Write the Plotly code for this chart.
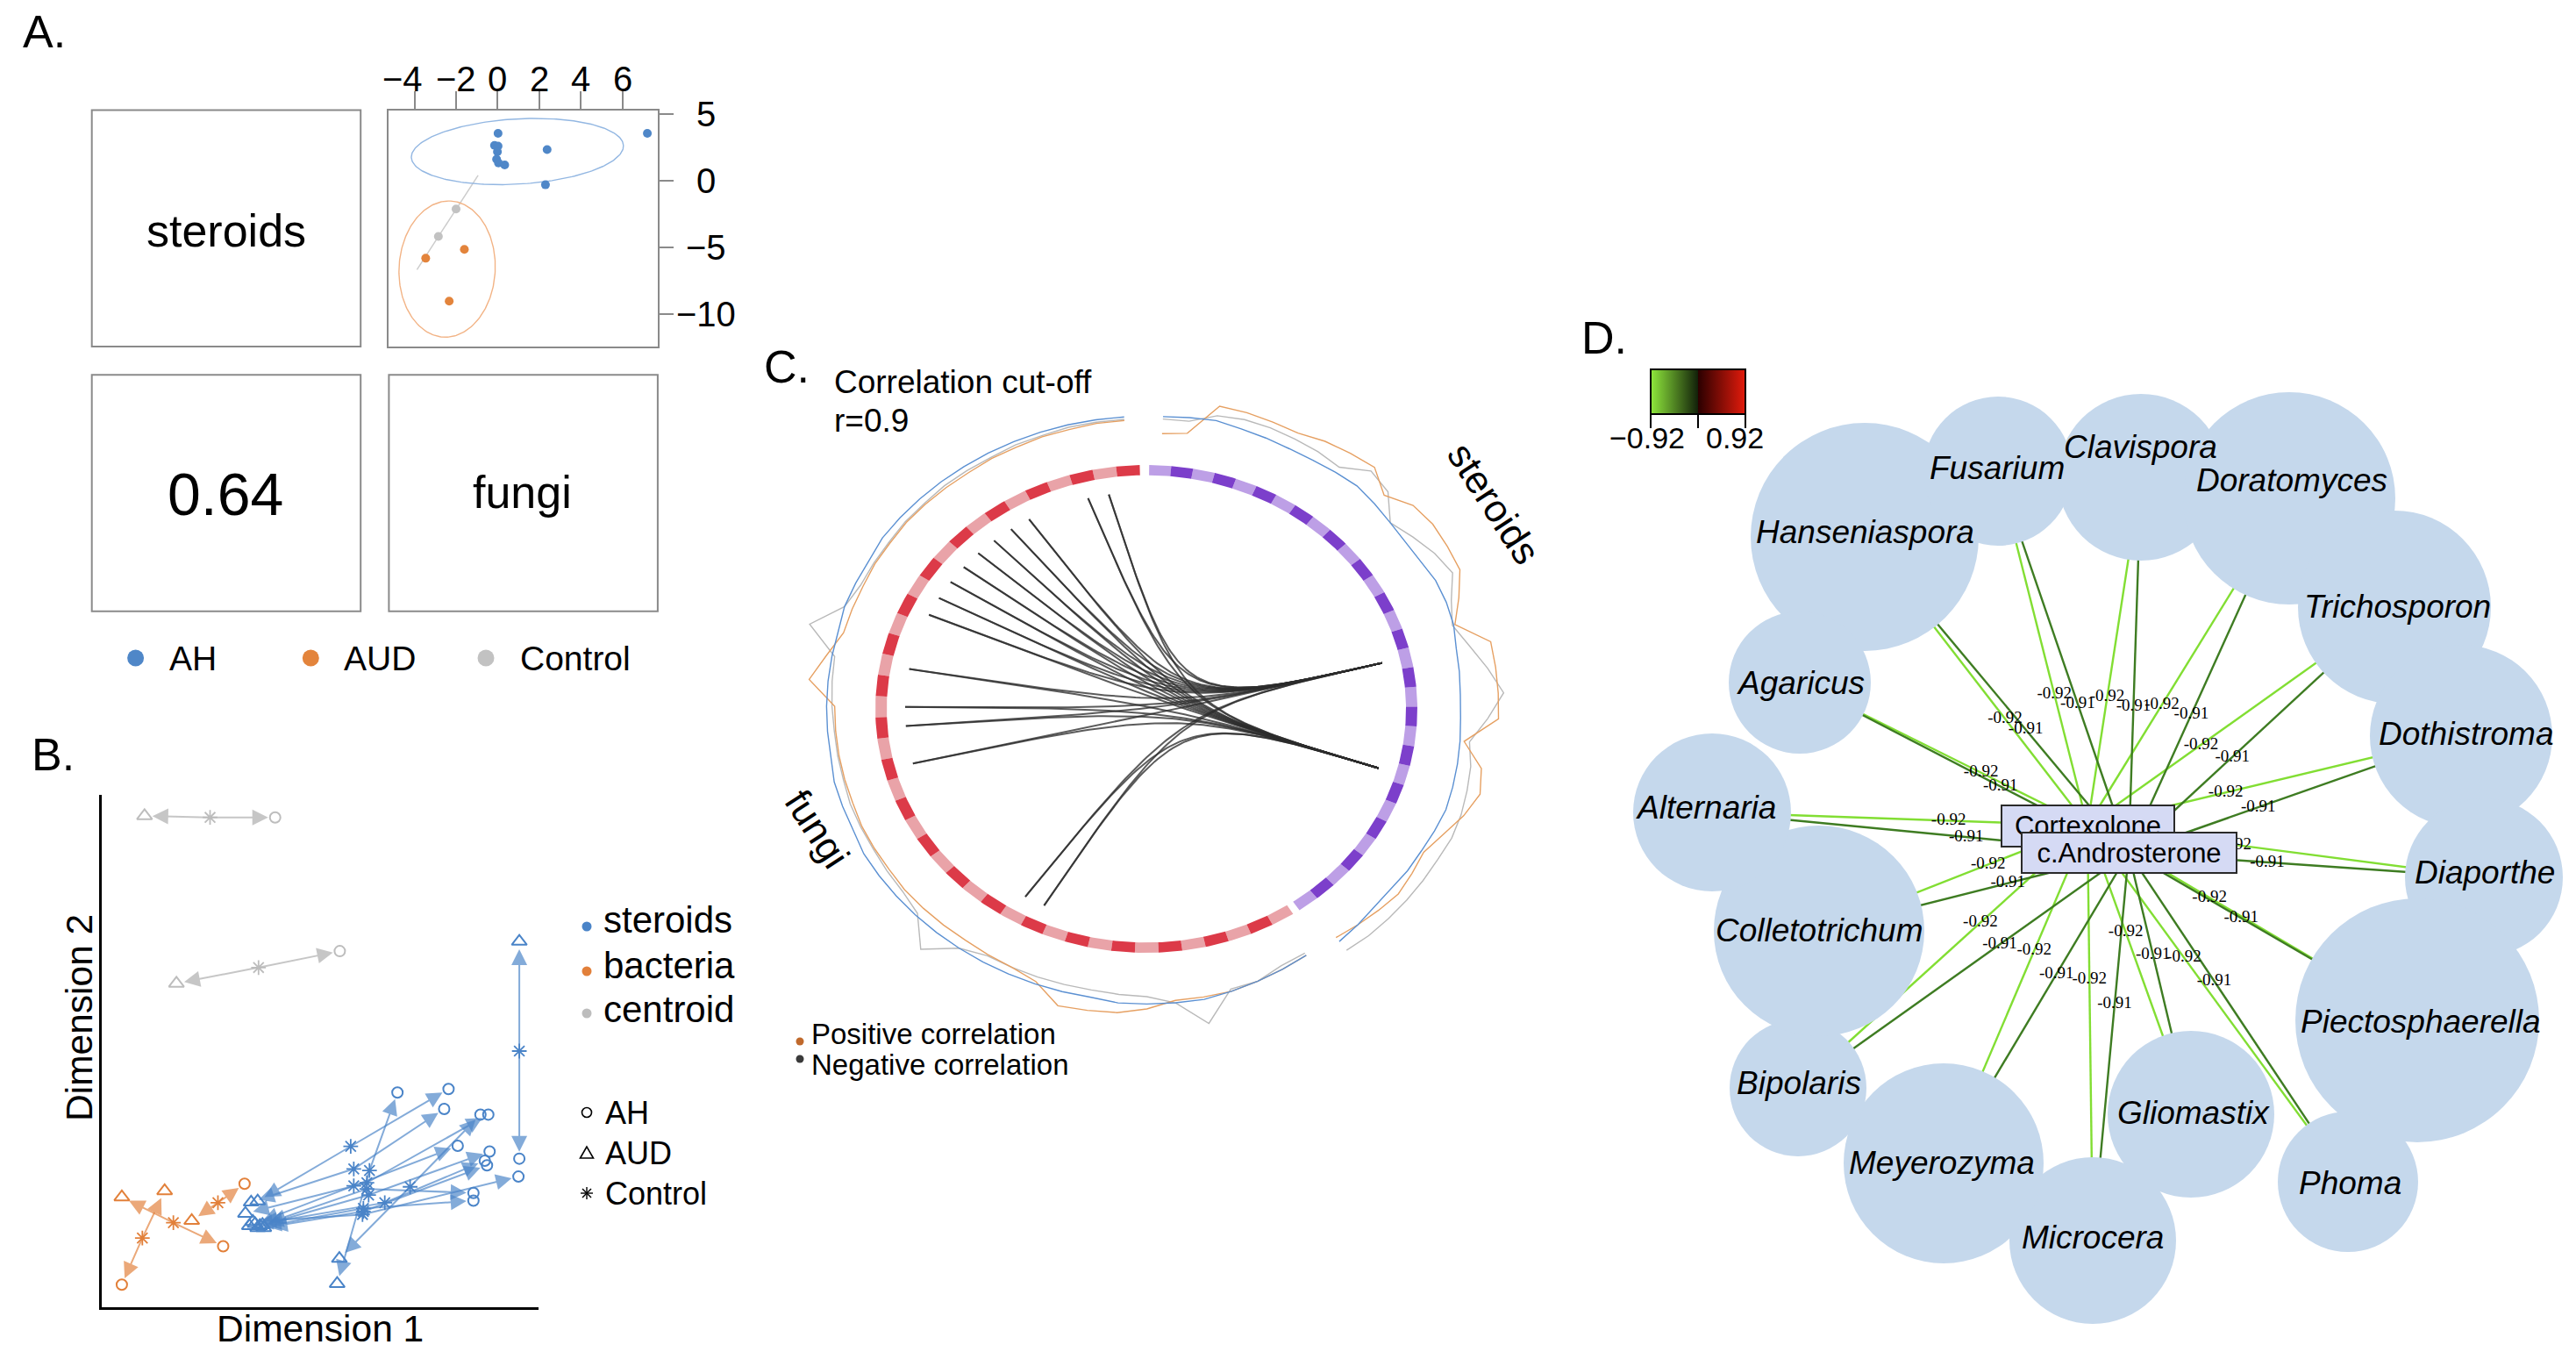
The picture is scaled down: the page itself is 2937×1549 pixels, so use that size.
import numpy as np
import plotly.graph_objects as go

W, H = 2937, 1549
SANS = "Liberation Sans, Arial, Helvetica, sans-serif"
SERIF = "Liberation Serif, Times New Roman, Times, serif"


def fx(p):
    return p / W


def fy(p):
    return 1 - p / H


# ======================= DATA =======================
# ---- Panel A : ordination of steroids, three groups ----
A_AH_X = [0.02, 7.20, 2.38, -0.15, 0.02, -0.01, -0.05, 0.04, 0.34, 2.30]
A_AH_Y = [3.52, 3.52, 2.31, 2.62, 2.57, 2.14, 1.58, 1.30, 1.15, -0.33]
A_AUD_X = [-1.60, -3.46, -2.33]
A_AUD_Y = [-5.18, -5.84, -9.06]
A_CTRL_X = [-2.00, -2.85]
A_CTRL_Y = [-2.15, -4.20]
# ellipse: centre x, centre y, conjugate semi-axis a (x, y), conjugate semi-axis b (x, y)
A_ELLIPSE_AH = [0.95, 2.16, 5.10, 0.46, -0.09, 2.44]
A_ELLIPSE_AUD = [-2.43, -6.65, 0.17, 5.10, 2.31, -0.19]
A_CTRL_LINE_X = [-3.88, -0.94]
A_CTRL_LINE_Y = [-6.70, 0.38]
A_MANTEL_R = "0.64"
A_DIAG = ["steroids", "fungi"]
A_XTICKS = [-4, -2, 0, 2, 4, 6]
A_YTICKS = [5, 0, -5, -10]
A_GROUPS = ["AH", "AUD", "Control"]

# ---- Panel B : procrustes-like arrows (Control -> AUD, Control -> AH) ----
B_STE_CTRL_X = [95.6, 57.0, 70.6, 61.3, 57.7, 60.7, 57.7, 61.1, 64.8, 59.9, 59.7, 60.7, 59.9]
B_STE_CTRL_Y = [50.0, 31.4, 23.5, 26.7, 27.0, 24.3, 23.7, 21.9, 20.4, 18.7, 18.1, 23.1, 19.3]
B_STE_AUD_X = [95.6, 35.7, 54.4, 53.9, 34.2, 32.9, 35.1, 36.2, 33.8, 37.1, 34.6, 36.8, 35.7]
B_STE_AUD_Y = [71.4, 20.7, 9.5, 4.6, 20.5, 18.3, 16.3, 15.9, 15.9, 15.5, 16.7, 16.1, 15.5]
B_STE_AH_X = [95.6, 79.4, 86.7, 67.7, 78.4, 88.5, 81.5, 88.8, 87.7, 88.2, 95.4, 85.1, 85.1]
B_STE_AH_Y = [29.0, 42.6, 37.6, 41.9, 38.7, 37.6, 31.5, 30.4, 28.6, 27.7, 25.5, 22.3, 20.8]
B_BAC_CTRL_X = [16.4, 9.3, 26.6]
B_BAC_CTRL_Y = [16.5, 13.5, 20.4]
B_BAC_AUD_X = [4.6, 14.4, 20.6]
B_BAC_AUD_Y = [21.5, 22.7, 16.9]
B_BAC_AH_X = [27.8, 4.6, 32.7]
B_BAC_AH_Y = [11.9, 4.4, 24.1]
B_CEN_CTRL_X = [24.8, 35.9]
B_CEN_CTRL_Y = [95.6, 66.3]
B_CEN_AUD_X = [9.8, 17.1]
B_CEN_AUD_Y = [95.9, 63.2]
B_CEN_AH_X = [39.7, 54.5]
B_CEN_AH_Y = [95.6, 69.5]
B_SOURCES = ["steroids", "bacteria", "centroid"]
B_GROUPS = ["AH", "AUD", "Control"]

# ---- Panel C : circos plot ----
C_N_STEROIDS = 31
C_N_FUNGI = 42
C_LINK_FUNGI = [11, 12, 21, 23, 24, 26, 29, 30, 31, 32, 33, 34, 35, 36, 39, 40]
C_LINK_STEROIDS = [16, 22]
C_TRACK_STE_BLUE = [1.20, 1.205, 1.21, 1.20, 1.195, 1.19, 1.19, 1.195, 1.20, 1.19, 1.18,
                    1.175, 1.18, 1.19, 1.19, 1.185, 1.17, 1.165, 1.16, 1.16, 1.165, 1.17,
                    1.175, 1.18, 1.175, 1.17, 1.17, 1.165, 1.17, 1.18, 1.19]
C_TRACK_STE_GREY = [1.19, 1.19, 1.23, 1.24, 1.24, 1.235, 1.23, 1.22, 1.28, 1.26, 1.18,
                    1.21, 1.24, 1.26, 1.21, 1.18, 1.22, 1.27, 1.32, 1.26, 1.20, 1.22,
                    1.23, 1.24, 1.245, 1.24, 1.24, 1.24, 1.24, 1.24, 1.235]
C_TRACK_STE_ORANGE = [1.13, 1.14, 1.27, 1.27, 1.265, 1.262, 1.28, 1.29, 1.30, 1.24, 1.29,
                      1.30, 1.295, 1.29, 1.24, 1.19, 1.30, 1.30, 1.30, 1.30, 1.18, 1.26,
                      1.28, 1.25, 1.21, 1.18, 1.19, 1.20, 1.19, 1.18, 1.17]
C_TRACK_FUN_BLUE = [1.17, 1.18, 1.19, 1.20, 1.21, 1.21, 1.21, 1.21, 1.20, 1.20, 1.20,
                    1.20, 1.20, 1.20, 1.20, 1.20, 1.20, 1.20, 1.20, 1.19, 1.19, 1.19,
                    1.18, 1.18, 1.18, 1.18, 1.18, 1.18, 1.19, 1.19, 1.19, 1.20, 1.20,
                    1.20, 1.20, 1.20, 1.20, 1.20, 1.20, 1.20, 1.20, 1.20]
C_TRACK_FUN_GREY = [1.16, 1.165, 1.19, 1.19, 1.31, 1.21, 1.18, 1.175, 1.17, 1.17, 1.17,
                    1.17, 1.17, 1.20, 1.29, 1.19, 1.17, 1.165, 1.16, 1.16, 1.16, 1.155,
                    1.155, 1.155, 1.16, 1.165, 1.17, 1.29, 1.19, 1.17, 1.17, 1.17, 1.175,
                    1.175, 1.18, 1.18, 1.18, 1.185, 1.185, 1.19, 1.19, 1.19]
C_TRACK_FUN_ORANGE = [1.17, 1.18, 1.19, 1.20, 1.20, 1.20, 1.23, 1.25, 1.255, 1.26, 1.19,
                      1.17, 1.165, 1.16, 1.16, 1.16, 1.16, 1.155, 1.155, 1.155, 1.15, 1.15,
                      1.15, 1.15, 1.15, 1.25, 1.20, 1.16, 1.16, 1.16, 1.165, 1.165, 1.17,
                      1.17, 1.17, 1.17, 1.175, 1.175, 1.18, 1.18, 1.185, 1.185]
C_SECTORS = ["steroids", "fungi"]
C_TITLE = ["Correlation cut-off", "r=0.9"]
C_LEGEND = ["Positive correlation", "Negative correlation"]

# ---- Panel D : correlation network ----
D_FUNGI = ["Hanseniaspora", "Fusarium", "Clavispora", "Doratomyces", "Trichosporon",
           "Dothistroma", "Diaporthe", "Piectosphaerella", "Phoma", "Gliomastix",
           "Microcera", "Meyerozyma", "Bipolaris", "Colletotrichum", "Alternaria", "Agaricus"]
D_STEROIDS = ["Cortexolone", "c.Androsterone"]
D_R_CORTEXOLONE = [-0.92, -0.92, -0.92, -0.92, -0.92, -0.92, -0.92, -0.92,
                   -0.92, -0.92, -0.92, -0.92, -0.92, -0.92, -0.92, -0.92]
D_R_ANDROSTERONE = [-0.91, -0.91, -0.91, -0.91, -0.91, -0.91, -0.91, -0.91,
                    -0.91, -0.91, -0.91, -0.91, -0.91, -0.91, -0.91, -0.91]
D_COLOR_RANGE = [-0.92, 0.92]

# ======================= LAYOUT CONSTANTS (pixels) =======================
D_NODE_POS = {  # network layout: centre x, centre y, radius (px)
    "Hanseniaspora": (2126, 612, 130), "Fusarium": (2278, 537, 85),
    "Clavispora": (2441, 544, 95), "Doratomyces": (2610, 568, 121),
    "Trichosporon": (2730, 692, 110), "Dothistroma": (2806, 839, 104),
    "Diaporthe": (2832, 1000, 90), "Piectosphaerella": (2756, 1163, 139),
    "Phoma": (2677, 1347, 80), "Gliomastix": (2498, 1270, 95),
    "Microcera": (2386, 1414, 95), "Meyerozyma": (2216, 1326, 114),
    "Bipolaris": (2050, 1240, 78), "Colletotrichum": (2074, 1061, 120),
    "Alternaria": (1952, 926, 90), "Agaricus": (2052, 778, 81),
}
D_LABEL_POS = {
    "Hanseniaspora": (2126, 606), "Fusarium": (2277, 533), "Clavispora": (2440, 509),
    "Doratomyces": (2613, 547), "Trichosporon": (2733, 691), "Dothistroma": (2811, 836),
    "Diaporthe": (2833, 994), "Piectosphaerella": (2760, 1164), "Phoma": (2679, 1348),
    "Gliomastix": (2501, 1268), "Microcera": (2386, 1410), "Meyerozyma": (2214, 1325),
    "Bipolaris": (2051, 1234), "Colletotrichum": (2074, 1060), "Alternaria": (1945, 920),
    "Agaricus": (2053, 778),
}
D_HUB_POS = {"Cortexolone": (2380, 941, 199, 49), "c.Androsterone": (2427, 972, 247, 48)}
D_LABEL_T = {"Cortexolone": 0.37, "c.Androsterone": 0.39}

C_CX, C_CY, C_RX, C_RY = 1307, 808, 309, 278
C_S_START, C_S_END = 0.6, 145.6
C_F_START, C_F_END = 147.2, 358.6

A_L1, A_R1, A_L2, A_R2 = 104.7, 411.2, 443.4, 749.9
A_TOP, A_BOT, A_TOP2, A_BOT2 = 125.6, 395.0, 427.3, 696.7
A_XLAB_Y = 90      # centre line of top tick labels
A_YLAB_X = 805     # centre of right tick labels
A_XLAB_SHIFT = {-4: -14}   # the first top label sits left of its tick in the original

BLUE = "#4f87c8"
ORANGE = "#e3843c"
GREY = "#c2c2c2"

fig = go.Figure()

# ======================= PANEL A =======================
fig.add_trace(go.Scatter(x=A_CTRL_LINE_X, y=A_CTRL_LINE_Y, mode="lines",
                         line=dict(color="#cccccc", width=1.5), xaxis="x", yaxis="y",
                         hoverinfo="skip", showlegend=False))


def ellipse(p):
    t = np.linspace(0, 2 * np.pi, 241)
    return (p[0] + p[2] * np.cos(t) + p[4] * np.sin(t),
            p[1] + p[3] * np.cos(t) + p[5] * np.sin(t))


for par, col in ((A_ELLIPSE_AH, "#93b7e2"), (A_ELLIPSE_AUD, "#f2b385")):
    ex, ey = ellipse(par)
    fig.add_trace(go.Scatter(x=ex, y=ey, mode="lines", line=dict(color=col, width=1.4),
                             xaxis="x", yaxis="y", hoverinfo="skip", showlegend=False))
for xs, ys, col in ((A_AH_X, A_AH_Y, BLUE), (A_AUD_X, A_AUD_Y, ORANGE), (A_CTRL_X, A_CTRL_Y, GREY)):
    fig.add_trace(go.Scatter(x=xs, y=ys, mode="markers", marker=dict(size=10, color=col),
                             xaxis="x", yaxis="y", showlegend=False))

# ======================= PANEL B =======================
B_COL = {"steroids": ("#4a84c8", "rgba(74,132,200,0.68)"),
         "bacteria": ("#e2803a", "rgba(226,128,58,0.68)"),
         "centroid": ("#bdbdbd", "rgba(185,185,185,0.8)")}
B_SETS = {
    "steroids": (B_STE_CTRL_X, B_STE_CTRL_Y, B_STE_AUD_X, B_STE_AUD_Y, B_STE_AH_X, B_STE_AH_Y),
    "bacteria": (B_BAC_CTRL_X, B_BAC_CTRL_Y, B_BAC_AUD_X, B_BAC_AUD_Y, B_BAC_AH_X, B_BAC_AH_Y),
    "centroid": (B_CEN_CTRL_X, B_CEN_CTRL_Y, B_CEN_AUD_X, B_CEN_AUD_Y, B_CEN_AH_X, B_CEN_AH_Y),
}
for src in B_SOURCES:
    cx, cy, tx, ty, ox, oy = B_SETS[src]
    mcol, acol = B_COL[src]
    fig.add_trace(go.Scatter(x=ox, y=oy, mode="markers", xaxis="x2", yaxis="y2", showlegend=False,
                             marker=dict(symbol="circle-open", size=12, color=mcol, line=dict(width=2))))
    fig.add_trace(go.Scatter(x=tx, y=ty, mode="markers", xaxis="x2", yaxis="y2", showlegend=False,
                             marker=dict(symbol="triangle-up-open", size=15, color=mcol, line=dict(width=2))))
    fig.add_trace(go.Scatter(x=cx, y=cy, mode="markers", xaxis="x2", yaxis="y2", showlegend=False,
                             marker=dict(symbol="asterisk-open", size=14, color=mcol, line=dict(width=1.8))))
    for x0, y0, x1, y1, x2, y2 in zip(cx, cy, tx, ty, ox, oy):
        for hx, hy, so in ((x1, y1, 9), (x2, y2, 8)):
            fig.add_annotation(x=hx, y=hy, ax=x0, ay=y0, xref="x2", yref="y2", axref="x2", ayref="y2",
                               text="", showarrow=True, arrowhead=2, arrowsize=1.8, arrowwidth=2,
                               arrowcolor=acol, standoff=so)


# ======================= PANEL C =======================
def ang_xy(a_deg, r):
    a = np.radians(a_deg)
    return r * np.sin(a), r * np.cos(a)


def ring_trace(n, start, end, parity, color):
    step = (end - start) / n
    xs, ys = [], []
    for k in range(n):
        if k % 2 != parity:
            continue
        aa = np.linspace(start + k * step, start + (k + 1) * step, 8)
        ox, oy = ang_xy(aa, 1.0)
        ix, iy = ang_xy(aa[::-1], 0.958)
        xs += list(ox) + list(ix) + [ox[0], None]
        ys += list(oy) + list(iy) + [oy[0], None]
    return go.Scatter(x=xs, y=ys, mode="lines", fill="toself", fillcolor=color,
                      line=dict(width=0, color=color), xaxis="x3", yaxis="y3",
                      hoverinfo="skip", showlegend=False)


fig.add_trace(ring_trace(C_N_FUNGI, C_F_START, C_F_END, 0, "#e9a3a8"))
fig.add_trace(ring_trace(C_N_FUNGI, C_F_START, C_F_END, 1, "#dc3a48"))
fig.add_trace(ring_trace(C_N_STEROIDS, C_S_START, C_S_END, 0, "#bd9fe6"))
fig.add_trace(ring_trace(C_N_STEROIDS, C_S_START, C_S_END, 1, "#7c3fcb"))


def track(vals, n, start, end, color):
    step = (end - start) / n
    a = np.array([start + (k + 0.5) * step for k in range(n)])
    x, y = ang_xy(a, np.array(vals))
    return go.Scatter(x=x, y=y, mode="lines", line=dict(color=color, width=1.4),
                      xaxis="x3", yaxis="y3", hoverinfo="skip", showlegend=False)


for vals_s, vals_f, col in ((C_TRACK_STE_GREY, C_TRACK_FUN_GREY, "#b9b9b9"),
                            (C_TRACK_STE_ORANGE, C_TRACK_FUN_ORANGE, "#e6a062"),
                            (C_TRACK_STE_BLUE, C_TRACK_FUN_BLUE, "#5b90d2")):
    fig.add_trace(track(vals_s, C_N_STEROIDS, C_S_START, C_S_END, col))
    fig.add_trace(track(vals_f, C_N_FUNGI, C_F_START, C_F_END, col))

f_step = (C_F_END - C_F_START) / C_N_FUNGI
s_step = (C_S_END - C_S_START) / C_N_STEROIDS
tt = np.linspace(0, 1, 80)
ctrl = np.array([0.12, 0.0])
chx, chy = [], []
for fk in C_LINK_FUNGI:
    p0 = np.array(ang_xy(C_F_START + (fk + 0.5) * f_step, 0.89))
    for sk in C_LINK_STEROIDS:
        p3 = np.array(ang_xy(C_S_START + (sk + 0.5) * s_step, 0.89))
        b = ((1 - tt) ** 3)[:, None] * p0 + (3 * (1 - tt) ** 2 * tt + 3 * (1 - tt) * tt ** 2)[:, None] * ctrl \
            + (tt ** 3)[:, None] * p3
        chx += list(b[:, 0]) + [None]
        chy += list(b[:, 1]) + [None]
fig.add_trace(go.Scatter(x=chx, y=chy, mode="lines", line=dict(color="rgba(45,45,45,0.78)", width=2),
                         xaxis="x3", yaxis="y3", hoverinfo="skip", showlegend=False))

# ======================= PANEL D =======================
edge = {"Cortexolone": ([], [], "#82de33"), "c.Androsterone": ([], [], "#3e7c22")}
lab_x, lab_y, lab_t, lab_v = [], [], [], []
for name, rc, ra in zip(D_FUNGI, D_R_CORTEXOLONE, D_R_ANDROSTERONE):
    nxp, nyp, _ = D_NODE_POS[name]
    for hub, r in ((D_STEROIDS[0], rc), (D_STEROIDS[1], ra)):
        hx, hy = D_HUB_POS[hub][:2]
        t = D_LABEL_T[hub]
        edge[hub][0].extend([nxp, hx, None])
        edge[hub][1].extend([nyp, hy, None])
        lab_x.append(hx + t * (nxp - hx))
        lab_y.append(hy + t * (nyp - hy))
        lab_t.append(f"{r:.2f}")
        lab_v.append(r)
for hub in D_STEROIDS:
    ex_, ey_, col = edge[hub]
    fig.add_trace(go.Scatter(x=ex_, y=ey_, mode="lines", line=dict(color=col, width=2.4),
                             xaxis="x4", yaxis="y4", hoverinfo="skip", showlegend=False))

CB_CX, CB_TOP, CB_LEN, CB_THICK = 1936, 421, 108, 51
CSCALE = [[0.0, "#8fe83c"], [0.496, "#13220a"], [0.5, "#b4b4b4"], [0.504, "#2c0000"], [1.0, "#e31b0c"]]
fig.add_trace(go.Scatter(
    x=lab_x, y=lab_y, mode="markers+text", text=lab_t, textposition="middle center",
    textfont=dict(family=SERIF, size=19, color="black"), xaxis="x4", yaxis="y4",
    hoverinfo="skip", showlegend=False,
    marker=dict(size=1, opacity=0, color=lab_v, colorscale=CSCALE,
                cmin=D_COLOR_RANGE[0], cmax=D_COLOR_RANGE[1], showscale=True,
                colorbar=dict(orientation="h", x=fx(CB_CX), xanchor="center", y=fy(CB_TOP), yanchor="top",
                              len=CB_LEN, lenmode="pixels", thickness=CB_THICK, thicknessmode="pixels",
                              xpad=0, ypad=0, outlinewidth=2, outlinecolor="black",
                              tickvals=[D_COLOR_RANGE[0], 0, D_COLOR_RANGE[1]],
                              showticklabels=False, ticks="outside", ticklen=15,
                              tickwidth=2, tickcolor="black",
                              bgcolor="rgba(0,0,0,0)", borderwidth=0))))

shapes = []
for name in D_FUNGI:
    cx, cy, r = D_NODE_POS[name]
    shapes.append(dict(type="circle", xref="x4", yref="y4", x0=cx - r, x1=cx + r, y0=cy - r, y1=cy + r,
                       fillcolor="#c5d8ec", line=dict(width=0), layer="above"))

# panel A frames
for x0, x1, y0, y1 in ((A_L1, A_R1, A_TOP, A_BOT), (A_L1, A_R1, A_TOP2, A_BOT2), (A_L2, A_R2, A_TOP2, A_BOT2)):
    shapes.append(dict(type="rect", xref="paper", yref="paper", x0=fx(x0), x1=fx(x1), y0=fy(y1), y1=fy(y0),
                       line=dict(color="#8a8a8a", width=2), fillcolor="rgba(0,0,0,0)"))


def dot(cx, cy, r, col, lw=0, fill=True):
    shapes.append(dict(type="circle", xref="paper", yref="paper", x0=fx(cx - r), x1=fx(cx + r),
                       y0=fy(cy + r), y1=fy(cy - r), fillcolor=col if fill else "rgba(0,0,0,0)",
                       line=dict(color=col, width=lw)))


def path(pts, col, lw, closed=False):
    d = "M " + " L ".join(f"{fx(a):.6f},{fy(b):.6f}" for a, b in pts) + (" Z" if closed else "")
    shapes.append(dict(type="path", xref="paper", yref="paper", path=d, line=dict(color=col, width=lw)))


# Panel A legend
for gx, col in zip((154.6, 354.3, 554), (BLUE, ORANGE, GREY)):
    dot(gx, 750, 9.5, col)
# Panel B legends
for yy, src in zip((1056, 1107, 1155), B_SOURCES):
    dot(669, yy, 5.5, B_COL[src][0])
dot(669, 1268, 5.5, "black", lw=1.6, fill=False)
path([(669, 1307), (661.5, 1320), (676.5, 1320)], "black", 1.6, closed=True)
for dx_, dy_ in ((7, 0), (0, 7), (5, 5), (5, -5)):
    path([(669 - dx_, 1360 - dy_), (669 + dx_, 1360 + dy_)], "black", 1.4)
# Panel C legend
dot(912, 1187, 4.5, "#c0692c")
dot(912, 1207, 4.5, "#3a3a3a")

fig.update_layout(shapes=shapes)


def txt(x, y, s, size, anchor="center", angle=0, family=SANS, color="black"):
    fig.add_annotation(x=fx(x), y=fy(y), xref="paper", yref="paper", text=s, showarrow=False,
                       xanchor=anchor, yanchor="middle", textangle=angle,
                       font=dict(size=size, family=family, color=color))


def num(v):
    return f"{v}".replace("-", "\u2212")


# panel A tick labels, placed on the ticks of the library axes
for v in A_XTICKS:
    fig.add_annotation(x=v, xref="x", y=fy(A_XLAB_Y), yref="paper", text=num(v), showarrow=False,
                       xanchor="center", yanchor="middle", xshift=A_XLAB_SHIFT.get(v, 0),
                       font=dict(size=40, family=SANS, color="black"))
for v in A_YTICKS:
    fig.add_annotation(x=fx(A_YLAB_X), xref="paper", y=v, yref="y", text=num(v), showarrow=False,
                       xanchor="center", yanchor="middle", font=dict(size=40, family=SANS, color="black"))

# panel letters
txt(50, 36, "A.", 52)
txt(60, 860, "B.", 52)
txt(897, 418, "C.", 52)
txt(1829, 385, "D.", 52)

# panel A texts
txt(257.6, 263, A_DIAG[0], 52)
txt(256.6, 563, A_MANTEL_R, 68)
txt(595.8, 561, A_DIAG[1], 52)
for gx, g in zip((190.6, 390, 590.5), A_GROUPS):
    txt(gx, 750, g, 39, anchor="left")

# panel B texts
txt(365, 1514, "Dimension 1", 42.5)
txt(90, 1160, "Dimension 2", 42.5, angle=-90)
for yy, src in zip((1048, 1100, 1150), B_SOURCES):
    txt(686, yy, src, 42, anchor="left")
for yy, g in zip((1268, 1314, 1360), B_GROUPS):
    txt(688, yy, g, 36, anchor="left")

# panel C texts
txt(949, 435, C_TITLE[0], 37, anchor="left")
txt(949, 480, C_TITLE[1], 37, anchor="left")
txt(1703, 574, C_SECTORS[0], 44, angle=57)
txt(932, 944, C_SECTORS[1], 44, angle=57)
txt(923, 1178, C_LEGEND[0], 33, anchor="left")
txt(923, 1213, C_LEGEND[1], 33, anchor="left")

# colour-key labels (panel D)
txt(CB_CX - CB_LEN / 2 - 4, 499, "\u22120.92", 34)
txt(CB_CX + CB_LEN / 2 - 12, 499, "0.92", 34)

# panel D node labels and hub boxes
for name in D_FUNGI:
    lx, ly = D_LABEL_POS[name]
    fig.add_annotation(x=lx, y=ly, xref="x4", yref="y4", text=f"<i>{name}</i>", showarrow=False,
                       xanchor="center", yanchor="middle", font=dict(size=37, family=SANS, color="black"))
for hub in D_STEROIDS:
    hx, hy, bw, bh = D_HUB_POS[hub]
    fig.add_annotation(x=hx, y=hy, xref="x4", yref="y4", text=hub, showarrow=False,
                       xanchor="center", yanchor="middle", width=bw - 4, height=bh - 4,
                       bgcolor="#d5daf4", bordercolor="#2a2a2a", borderwidth=2, borderpad=0,
                       valign="middle", font=dict(size=31, family=SANS, color="black"))

axis_a = dict(showgrid=False, zeroline=False, showline=True, linecolor="#8a8a8a", linewidth=2,
              mirror=True, ticks="outside", tickwidth=2, tickcolor="#8a8a8a", showticklabels=False)
hidden = dict(visible=False, showgrid=False, zeroline=False)

fig.update_layout(
    width=W, height=H, margin=dict(l=0, r=0, t=0, b=0, pad=0),
    paper_bgcolor="white", plot_bgcolor="rgba(0,0,0,0)", showlegend=False,
    font=dict(family=SANS, color="black"),
    xaxis=dict(axis_a, domain=[fx(A_L2), fx(A_R2)], range=[-5.23, 7.70], side="top", anchor="y",
               tickvals=A_XTICKS, ticklen=20),
    yaxis=dict(axis_a, domain=[fy(A_BOT), fy(A_TOP)], range=[-12.46, 5.26], side="right", anchor="x",
               tickvals=A_YTICKS, ticklen=16),
    xaxis2=dict(domain=[fx(116), fx(614)], range=[0, 100], anchor="y2", showline=True, linecolor="black",
                linewidth=3, showticklabels=False, ticks="", showgrid=False, zeroline=False),
    yaxis2=dict(domain=[fy(1490), fy(906)], range=[0, 100], anchor="x2", showline=True, linecolor="black",
                linewidth=3, showticklabels=False, ticks="", showgrid=False, zeroline=False),
    xaxis3=dict(hidden, domain=[fx(C_CX - 1.5 * C_RX), fx(C_CX + 1.5 * C_RX)], range=[-1.5, 1.5], anchor="y3"),
    yaxis3=dict(hidden, domain=[fy(C_CY + 1.5 * C_RY), fy(C_CY - 1.5 * C_RY)], range=[-1.5, 1.5], anchor="x3"),
    xaxis4=dict(hidden, domain=[fx(1800), fx(2937)], range=[1800, 2937], anchor="y4"),
    yaxis4=dict(hidden, domain=[fy(1549), fy(350)], range=[1549, 350], anchor="x4"),
)

fig.write_html("out.html", config={"displayModeBar": False},
               post_script="document.body.style.margin='0px';document.body.style.overflow='hidden';")
